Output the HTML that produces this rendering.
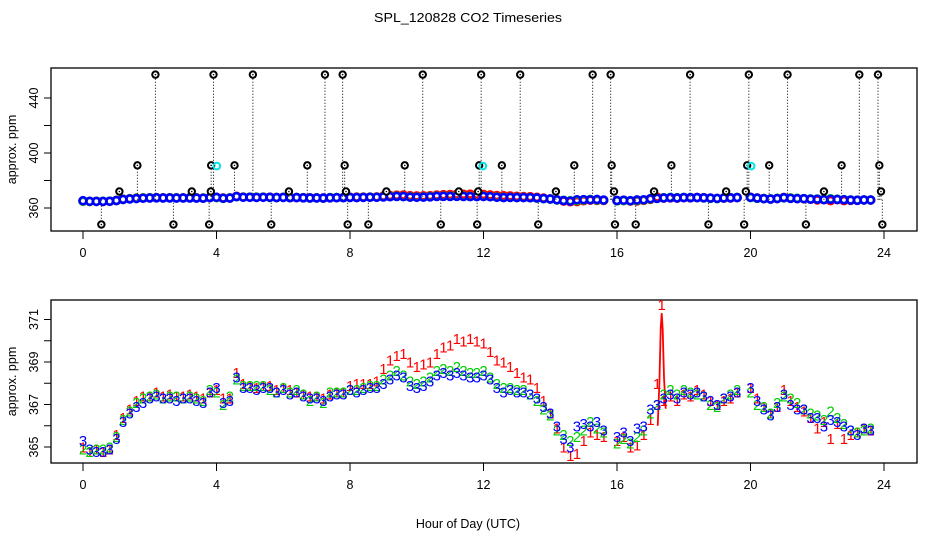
<!DOCTYPE html>
<html><head><meta charset="utf-8"><style>
html,body{margin:0;padding:0;background:#fff}
svg{display:block}
text{font-family:"Liberation Sans",sans-serif;}
</style></head><body>
<svg id="chart" width="936" height="540" viewBox="0 0 936 540" xmlns="http://www.w3.org/2000/svg">
<text x="468" y="22" text-anchor="middle" font-size="12.5" textLength="188" lengthAdjust="spacingAndGlyphs">SPL_120828  CO2 Timeseries</text>
<g id="top"></g>
<g id="bot"></g>
<text x="468" y="528" text-anchor="middle" font-size="12.5">Hour of Day (UTC)</text>
</svg>
<script>
// ---- data ----
const startHour = 0, stepHour = 0.2;
const blueVals = [365.3,364.9,364.8,364.8,364.9,365.4,366.2,366.6,366.9,367.1,
367.3,367.4,367.3,367.3,367.2,367.3,367.3,367.2,367.1,367.6,
367.8,367.1,367.2,368.3,367.8,367.8,367.7,367.8,367.8,367.6,
367.7,367.5,367.6,367.4,367.3,367.3,367.2,367.4,367.5,367.5,
367.7,367.6,367.7,367.8,367.8,368.0,368.2,368.4,368.3,367.9,
367.8,367.9,368.1,368.4,368.5,368.4,368.5,368.4,368.3,368.3,
368.4,368.2,367.8,367.6,367.7,367.6,367.6,367.5,367.3,366.9,
366.6,366.0,365.4,365.0,366.0,366.1,366.0,366.2,365.8,null,
365.5,365.7,365.3,365.9,366.0,366.8,367.0,367.3,367.5,367.3,
367.6,367.5,367.6,367.4,367.2,367.0,367.3,367.4,367.6,null,
367.8,367.2,366.8,366.5,366.9,367.5,367.0,366.8,366.8,366.4,
366.4,366.0,366.3,366.2,366.0,365.8,365.6,365.9,365.8,null];
const greenVals = [364.9,364.8,364.9,364.9,365.0,365.5,366.3,366.7,367.1,367.3,
367.4,367.5,367.3,367.4,367.4,367.3,367.4,367.3,367.2,367.7,
367.6,367.0,367.4,368.2,367.9,367.9,367.9,367.9,367.7,367.6,
367.8,367.6,367.7,367.5,367.2,367.4,367.1,367.6,367.6,367.6,
367.7,367.7,367.8,367.9,367.9,368.2,368.4,368.6,368.4,368.1,
368.0,368.1,368.3,368.6,368.7,368.6,368.8,368.6,368.5,368.5,
368.6,368.3,368.0,367.8,367.8,367.7,367.7,367.5,367.2,366.8,
366.5,365.8,365.6,365.3,365.5,365.8,366.2,365.9,365.7,null,
365.2,365.4,365.2,365.5,365.8,366.6,367.0,367.5,367.7,367.5,
367.7,367.6,367.5,367.4,367.0,366.9,367.3,367.5,367.7,null,
367.6,367.0,366.9,366.6,367.1,367.4,367.3,367.1,366.8,366.6,
366.5,366.3,366.7,366.4,366.1,365.8,365.7,365.8,365.9,null];
const redVals = [365.0,364.8,364.9,364.8,364.9,365.6,366.4,366.8,367.2,367.4,
367.4,367.6,367.4,367.5,367.4,367.4,367.5,367.4,367.3,367.6,
367.7,367.3,367.3,368.5,368.0,367.9,367.8,367.9,367.9,367.7,
367.8,367.7,367.6,367.5,367.4,367.4,367.3,367.5,367.6,367.6,
367.9,368.0,368.0,368.0,368.1,368.7,369.1,369.3,369.4,369.0,
368.8,368.9,369.0,369.4,369.7,369.8,370.1,370.0,370.1,370.0,
369.9,369.5,369.1,369.0,368.8,368.5,368.3,368.2,367.8,367.2,
366.6,365.9,365.0,364.6,364.7,365.3,365.7,365.6,365.5,null,
365.3,365.5,365.0,365.1,365.6,366.3,368.0,367.2,367.4,367.2,
367.5,367.4,367.7,367.5,367.2,367.0,367.2,367.3,367.6,null,
367.8,367.3,366.9,366.6,366.9,367.7,367.2,366.9,366.7,366.4,
365.9,366.2,365.4,366.1,365.4,365.6,365.7,365.9,365.8,null];
const spikeHours = [17.22,17.27,17.31,17.34,17.37,17.41,17.46];
const spikeVals = [366.0,368.0,370.6,371.3,370.5,368.2,366.8];
const outHours = [2.17,3.91,5.09,7.25,7.78,10.18,11.93,13.1,15.27,15.81,18.19,19.95,21.11,23.26,23.82,
1.63,3.84,4.54,6.72,7.84,9.64,11.87,12.55,14.72,15.84,17.63,19.9,20.56,22.73,23.86,
1.09,3.26,3.83,6.17,7.88,9.09,11.26,11.84,14.17,15.91,17.11,19.27,19.86,22.2,23.91,
0.55,2.71,3.78,5.64,7.93,8.55,10.72,11.81,13.64,15.94,16.56,18.74,19.81,21.66,23.95];
const outVals = [457,457,457,457,457,457,457,457,457,457,457,457,457,457,457,
391,391,391,391,391,391,391,391,391,391,391,391,391,391,391,
372,372,372,372,372,372,372,372,372,372,372,372,372,372,372,
348,348,348,348,348,348,348,348,348,348,348,348,348,348,348];
const cyanHours = [4.01,11.98,20.02];
const cyanVals = [390.5,390.5,390.5];
const xTicks = [0,4,8,12,16,20,24];
const topYTicks = [360,380,400,420,440];
const topYLabels = ["360","","400","","440"];
const botYTicks = [365,366,367,368,369,370,371];
const botYLabels = ["365","","367","","369","","371"];

const X = h => 83 + h * 33.375;
const YT = v => 208 - (v - 360) * 1.375;
const YB = v => 447 - (v - 365) * 21.25;
const NS = "http://www.w3.org/2000/svg";
function mk(tag, attrs, parent, txt){
  const e = document.createElementNS(NS, tag);
  for (const k in attrs) e.setAttribute(k, attrs[k]);
  if (txt !== undefined) e.textContent = txt;
  parent.appendChild(e); return e;
}
const hourAt = i => startHour + i * stepHour;

function axes(g, top, bottom, yTicks, yLabels, Y, prefix){
  const box = mk('rect', {x:51, y:top, width:866, height:bottom-top, fill:'none', stroke:'#000', 'stroke-width':1.3}, g);
  
  
  xTicks.forEach(t => {
    const l = mk('line', {x1:X(t), x2:X(t), y1:bottom, y2:bottom+8, stroke:'#000'}, g);
    
    
    const tx = mk('text', {x:X(t), y:bottom+26, 'text-anchor':'middle', 'font-size':12.5}, g, String(t));
    
    
  });
  yTicks.forEach((t, i) => {
    const y = Y(t);
    const l = mk('line', {x1:44, x2:51, y1:y, y2:y, stroke:'#000'}, g);
    
    
    if (yLabels[i]) {
      const tx = mk('text', {x:38, y:y, 'text-anchor':'middle', 'font-size':12.5, transform:`rotate(-90 38 ${y})`}, g, yLabels[i]);
      
      
    }
  });
  const cy = (top + bottom) / 2;
  const yt = mk('text', {x:16, y:cy, 'text-anchor':'middle', 'font-size':12.5, transform:`rotate(-90 16 ${cy})`}, g, 'approx. ppm');
  
  
}

const gt = document.getElementById('top');
axes(gt, 68, 231, topYTicks, topYLabels, YT, 'top');
outHours.forEach((h, i) => {
  const y = YT(outVals[i]);
  const base = YT(366);
  const l = mk('line', {x1:X(h), x2:X(h), y1:base, y2:y, stroke:'#000', 'stroke-width':1, 'stroke-dasharray':'1,2'}, gt);
  
  
});
[[redVals,'#ff0000'],[greenVals,'#00cc00'],[blueVals,'#0000ff']].forEach(([vals,col]) => {
  vals.forEach((v, i) => {
    if (v === null) return;
    const c = mk('circle', {cx:X(hourAt(i)), cy:YT(v), r:3.5, fill:'none', stroke:col, 'stroke-width':2.6}, gt);
    
    
  });
});
outHours.forEach((h, i) => {
  const c = mk('circle', {cx:X(h), cy:YT(outVals[i]), r:3.2, fill:'#fff', stroke:'#000', 'stroke-width':2}, gt);
  
  
  const d = mk('circle', {cx:X(h), cy:YT(outVals[i]), r:0.8, fill:'#000'}, gt);
  
  
});
cyanHours.forEach((h, i) => {
  const c = mk('circle', {cx:X(h), cy:YT(cyanVals[i]), r:3.3, fill:'none', stroke:'#00e5e5', 'stroke-width':2}, gt);
  
  
});

const gb = document.getElementById('bot');
axes(gb, 300, 463, botYTicks, botYLabels, YB, 'bottom');
const sp = mk('polyline', {points: spikeHours.map((h,i)=>X(h)+','+YB(spikeVals[i])).join(' '), fill:'none', stroke:'#ff0000', 'stroke-width':1.8}, gb);


[[redVals,'#ff0000','1'],[greenVals,'#00cc00','2'],[blueVals,'#0000ff','3']].forEach(([vals,col,ch]) => {
  vals.forEach((v, i) => {
    if (v === null) return;
    const t = mk('text', {x:X(hourAt(i)), y:YB(v)+5.5, 'text-anchor':'middle', 'font-size':15, fill:col}, gb, ch);
    
    
  });
});
const pk = mk('text', {x:X(spikeHours[3]), y:YB(371.7)+5.5, 'text-anchor':'middle', 'font-size':15, fill:'#ff0000'}, gb, '1');


</script>
</body></html>
